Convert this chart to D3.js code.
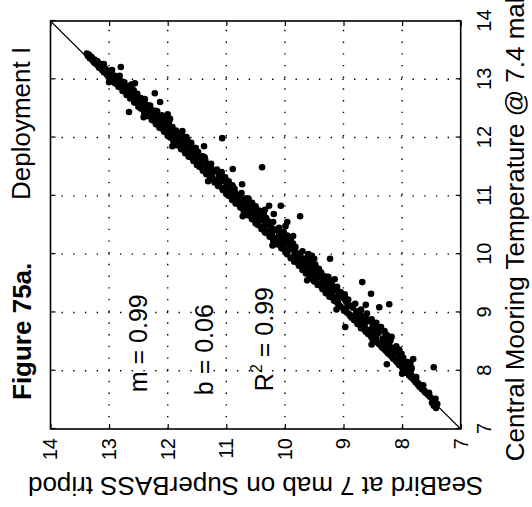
<!DOCTYPE html>
<html>
<head>
<meta charset="utf-8">
<script src="https://cdn.jsdelivr.net/npm/d3@7"></script>
<style>
  body { margin: 0; background: #fff; }
  svg { display: block; }
  text { font-family: "Liberation Sans", Arial, Helvetica, sans-serif; fill: #000; }
</style>
</head>
<body>
<svg id="chart" width="532" height="507"></svg>
<script>
// Axis ticks (both axes span 7-14 degC)
const xTicks = [7, 8, 9, 10, 11, 12, 13, 14];
const yTicks = [7, 8, 9, 10, 11, 12, 13, 14];
const xDomain = [7, 14];
const yDomain = [7, 14];

// Paired temperature samples: [central mooring @ 7.4 mab, SeaBird @ 7 mab]
const coreSamples = [
  [7.36,7.42],[7.40,7.46],[7.43,7.40],[7.45,7.49],[7.48,7.44],[7.50,7.47],[7.52,7.43],[7.55,7.52],[7.58,7.55],
  [7.61,7.58],[7.63,7.61],[7.66,7.62],[7.68,7.66],[7.70,7.65],[7.72,7.70],[7.74,7.69],[7.76,7.73],[7.78,7.72],
  [7.80,7.77],[7.82,7.76],[7.84,7.80],[7.86,7.79],[7.88,7.84],[7.90,7.82],[7.92,7.88],[7.94,7.85],[7.96,7.91],[7.98,7.87],
  [8.00,7.95],[8.02,7.90],[8.04,7.99],[8.05,7.84],[8.07,7.98],[8.09,7.93],[8.10,8.05],[8.12,7.96],[8.14,8.08],[8.15,7.90],
  [8.17,8.10],[8.19,8.02],[8.20,8.14],[8.22,7.98],[8.24,8.17],[8.25,8.06],[8.27,8.20],[8.29,8.01],[8.30,8.24],[8.32,8.12],
  [8.34,8.27],[8.35,8.05],[8.37,8.30],[8.39,8.17],[8.40,8.34],[8.42,8.10],[8.44,8.36],[8.45,8.22],[8.47,8.40],[8.49,8.28],
  [8.50,8.44],[8.52,8.20],[8.53,8.50],[8.55,8.33],[8.57,8.52],[8.58,8.18],[8.60,8.46],[8.62,8.28],[8.63,8.58],[8.65,8.40],
  [8.67,8.62],[8.68,8.30],[8.70,8.55],[8.72,8.42],[8.73,8.70],[8.75,8.36],[8.77,8.64],[8.78,8.50],[8.80,8.76],[8.82,8.44],
  [8.83,8.68],[8.85,8.58],[8.87,8.82],[8.88,8.52],[8.90,8.74],[8.92,8.62],[8.93,8.88],[8.95,8.70],[8.97,8.90],[8.98,8.60],
  [9.00,8.94],[9.02,8.78],[9.03,8.99],[9.05,8.70],[9.07,8.96],[9.08,8.84],[9.10,9.05],[9.12,8.88],[9.13,9.08],[9.15,8.80],
  [9.17,9.10],[9.18,8.95],[9.20,9.16],[9.22,8.92],[9.23,9.12],[9.25,9.02],[9.27,9.24],[9.28,8.98],[9.30,9.20],[9.32,9.08],
  [9.33,9.30],[9.35,9.05],[9.37,9.28],[9.38,9.16],[9.40,9.36],[9.42,9.12],[9.43,9.34],[9.45,9.24],[9.47,9.44],[9.48,9.20],
  [9.50,9.44],[9.52,9.30],[9.53,9.50],[9.55,9.22],[9.57,9.48],[9.58,9.36],[9.60,9.56],[9.62,9.32],[9.63,9.54],[9.65,9.44],
  [9.67,9.64],[9.68,9.38],[9.70,9.60],[9.72,9.50],[9.73,9.70],[9.75,9.42],[9.77,9.66],[9.78,9.55],[9.80,9.76],[9.82,9.48],
  [9.83,9.72],[9.85,9.62],[9.87,9.84],[9.88,9.56],[9.90,9.78],[9.92,9.68],[9.93,9.90],[9.95,9.60],[9.97,9.84],[9.98,9.74],
  [10.00,9.96],[10.02,9.80],[10.03,9.99],[10.05,9.70],[10.07,9.94],[10.08,9.86],[10.10,10.06],[10.12,9.82],[10.13,10.04],[10.15,9.92],
  [10.17,10.14],[10.18,9.86],[10.20,10.10],[10.22,9.98],[10.23,10.20],[10.25,9.90],[10.27,10.16],[10.28,10.04],[10.30,10.26],[10.32,9.96],
  [10.33,10.22],[10.35,10.10],[10.37,10.34],[10.38,10.02],[10.40,10.28],[10.42,10.18],[10.43,10.40],[10.45,10.10],[10.47,10.36],[10.48,10.24],
  [10.50,10.46],[10.52,10.30],[10.53,10.50],[10.55,10.20],[10.57,10.44],[10.58,10.36],[10.60,10.56],[10.62,10.32],[10.63,10.54],[10.65,10.42],
  [10.67,10.64],[10.68,10.36],[10.70,10.60],[10.72,10.50],[10.73,10.70],[10.75,10.44],[10.77,10.66],[10.78,10.56],[10.80,10.76],[10.82,10.50],
  [10.83,10.72],[10.85,10.62],[10.87,10.84],[10.88,10.56],[10.90,10.80],[10.92,10.68],[10.93,10.90],[10.95,10.62],[10.97,10.86],[10.98,10.76],
  [11.00,10.96],[11.02,10.82],[11.03,11.00],[11.05,10.74],[11.07,10.96],[11.08,10.88],[11.10,11.06],[11.12,10.86],[11.13,11.05],[11.15,10.94],
  [11.17,11.14],[11.18,10.90],[11.20,11.12],[11.22,11.00],[11.23,11.20],[11.25,10.96],[11.27,11.18],[11.28,11.06],[11.30,11.27],[11.32,11.02],
  [11.33,11.24],[11.35,11.12],[11.37,11.34],[11.38,11.08],[11.40,11.30],[11.42,11.20],[11.43,11.40],[11.45,11.16],[11.47,11.38],[11.48,11.26],
  [11.50,11.46],[11.52,11.32],[11.53,11.50],[11.55,11.26],[11.57,11.48],[11.58,11.38],[11.60,11.56],[11.62,11.36],[11.63,11.55],[11.65,11.44],
  [11.67,11.64],[11.68,11.40],[11.70,11.62],[11.72,11.52],[11.73,11.70],[11.75,11.48],[11.77,11.68],[11.78,11.58],[11.80,11.77],[11.82,11.52],
  [11.83,11.74],[11.85,11.64],[11.87,11.84],[11.88,11.60],[11.90,11.80],[11.92,11.70],[11.93,11.90],[11.95,11.66],[11.97,11.88],[11.98,11.78],
  [12.00,11.96],[12.02,11.82],[12.03,12.00],[12.05,11.76],[12.07,11.98],[12.08,11.88],[12.10,12.06],[12.12,11.86],[12.13,12.05],[12.15,11.94],
  [12.17,12.14],[12.18,11.92],[12.20,12.12],[12.22,12.02],[12.23,12.20],[12.25,11.98],[12.27,12.18],[12.28,12.08],[12.30,12.27],[12.32,12.04],
  [12.33,12.24],[12.35,12.14],[12.37,12.34],[12.38,12.10],[12.40,12.30],[12.42,12.22],[12.43,12.40],[12.45,12.18],[12.47,12.38],[12.48,12.28],
  [12.50,12.46],[12.52,12.34],[12.53,12.50],[12.55,12.30],[12.57,12.50],[12.58,12.42],[12.60,12.57],[12.62,12.40],[12.63,12.56],[12.65,12.48],
  [12.67,12.64],[12.68,12.46],[12.70,12.62],[12.72,12.56],[12.73,12.70],[12.75,12.52],[12.77,12.70],[12.78,12.62],[12.80,12.77],[12.82,12.60],
  [12.83,12.76],[12.85,12.70],[12.87,12.84],[12.88,12.66],[12.90,12.82],[12.92,12.76],[12.93,12.90],[12.95,12.74],[12.97,12.90],[12.98,12.84],
  [13.00,12.97],[13.02,12.86],[13.04,13.01],[13.06,12.90],[13.08,13.04],[13.10,12.96],[13.12,13.09],[13.14,13.00],[13.16,13.12],[13.18,13.06],
  [13.20,13.17],[13.22,13.10],[13.24,13.20],[13.26,13.15],[13.28,13.25],[13.30,13.20],[13.32,13.28],[13.34,13.25],[13.36,13.33],[13.38,13.30],
  [13.40,13.36],[13.42,13.34],[13.44,13.38]
];

// Further samples inside and along the edges of the main band
const bandSamples = [
  [7.62,7.54],[7.69,7.65],[7.75,7.64],[7.83,7.76],[7.89,7.76],[7.97,7.92],[8.03,7.84],[8.08,7.99],[8.13,7.86],[8.16,8.02],
  [8.21,8.15],[8.26,8.04],[8.31,8.20],[8.36,8.05],[8.41,8.25],[8.46,8.39],[8.51,8.26],[8.56,8.44],[8.61,8.26],[8.66,8.48],
  [8.71,8.63],[8.76,8.49],[8.81,8.67],[8.86,8.65],[8.91,8.86],[8.96,8.80],[9.01,8.72],[9.06,8.96],[9.11,8.92],[9.16,9.10],
  [9.21,8.97],[9.26,9.13],[9.31,8.98],[9.36,9.19],[9.41,9.33],[9.46,9.20],[9.51,9.36],[9.56,9.52],[9.61,9.40],[9.66,9.55],
  [9.71,9.41],[9.76,9.60],[9.81,9.74],[9.86,9.63],[9.91,9.79],[9.96,9.60],[10.01,9.83],[10.06,9.97],[10.11,9.86],[10.16,10.02],
  [10.21,10.16],[10.26,10.06],[10.31,10.00],[10.36,10.24],[10.41,10.19],[10.46,10.38],[10.51,10.34],[10.56,10.28],[10.61,10.50],[10.66,10.47],
  [10.71,10.37],[10.76,10.62],[10.81,10.75],[10.86,10.62],[10.91,10.76],[10.96,10.66],[11.01,10.91],[11.06,10.85],[11.11,10.98],[11.16,10.89],
  [11.21,11.14],[11.26,11.08],[11.31,11.06],[11.36,11.25],[11.41,11.08],[11.46,11.30],[11.51,11.45],[11.56,11.34],[11.61,11.49],[11.66,11.37],
  [11.71,11.54],[11.76,11.68],[11.81,11.57],[11.86,11.73],[11.91,11.60],[11.96,11.77],[12.01,11.92],[12.06,11.80],[12.11,11.96],[12.16,12.11],
  [12.21,11.99],[12.26,12.14],[12.31,12.01],[12.36,12.18],[12.41,12.33],[12.46,12.21],[12.51,12.37],[12.56,12.35],[12.61,12.51],[12.66,12.39],
  [12.71,12.55],[12.76,12.70],[12.81,12.58],[12.86,12.73],[12.91,12.62],[12.96,12.78],[13.01,12.92],[13.06,12.82],[13.11,12.97],[13.16,12.95],
  [13.21,13.14],[13.26,13.09],[13.31,13.20],[13.36,13.31],
  [7.95,8.00],[8.45,8.52],[9.05,9.12],[9.55,9.62],[10.15,10.21],[10.65,10.72],[11.25,11.31],[11.85,11.92],[12.35,12.41],[12.95,13.00]
];

// Samples lying away from the main band
const scatterSamples = [
  [13.21,12.80],[12.93,12.56],[12.76,12.22],[12.61,12.13],[12.44,12.66],[12.40,12.00],[12.32,11.96],[12.11,11.75],
  [12.01,11.68],[11.85,11.38],[11.99,11.07],[11.46,10.89],[11.20,10.73],[11.49,10.39],[10.74,10.46],[10.76,10.34],
  [10.83,10.27],[10.69,10.19],[10.83,10.07],[10.65,9.74],[10.55,9.96],[10.48,9.99],[10.31,9.86],[9.97,9.54],
  [9.92,9.23],[9.92,9.50],[9.92,9.66],[9.83,9.69],[9.74,9.49],[9.52,8.68],[9.32,8.53],[9.14,8.22],[9.09,8.39],
  [9.13,8.62],[8.75,8.97],[9.61,9.26],[9.57,9.15],[9.44,9.11],[10.00,9.60],[8.20,7.81],[8.06,7.46],[8.11,8.26]
];

// Regression statistics printed on the plot
const fitLabels = ["m = 0.99", "b = 0.06"];
const rSquared = "0.99";

// The figure is laid out portrait (507 wide x 532 tall) and turned a quarter turn
// counter-clockwise onto the landscape page.
const svg = d3.select("#chart");
const g = svg.append("g").attr("transform", "translate(0,507) rotate(-90)");

const x = d3.scaleLinear().domain(xDomain).range([78, 486]);
const y = d3.scaleLinear().domain(yDomain).range([460.7, 50.5]);

const [x0, x1] = x.range();
const [y0, y1] = y.range();

// Dotted grid
const grid = g.append("g").attr("stroke", "#000").attr("stroke-width", 1.4)
  .attr("stroke-dasharray", "1.4,10.3").attr("fill", "none");
grid.selectAll("line.v").data(xTicks.slice(1, -1)).join("line")
  .attr("class", "v")
  .attr("x1", d => x(d)).attr("x2", d => x(d))
  .attr("y1", y0).attr("y2", y1);
grid.selectAll("line.h").data(yTicks.slice(1, -1)).join("line")
  .attr("class", "h")
  .attr("x1", x0).attr("x2", x1)
  .attr("y1", d => y(d)).attr("y2", d => y(d));

// 1:1 reference line
g.append("line")
  .attr("x1", x(xDomain[0])).attr("y1", y(yDomain[0]))
  .attr("x2", x(xDomain[1])).attr("y2", y(yDomain[1]))
  .attr("stroke", "#000").attr("stroke-width", 1.1);

// Sample points
const pts = g.append("g").attr("fill", "#000");
[["c", coreSamples], ["b", bandSamples], ["s", scatterSamples]].forEach(([cls, rows]) => {
  pts.selectAll("circle." + cls).data(rows).join("circle")
    .attr("class", cls)
    .attr("cx", d => x(d[0])).attr("cy", d => y(d[1])).attr("r", 3.3);
});

// Axes with inward ticks on all four sides
function styleAxis(sel) {
  sel.selectAll(".domain").remove();
  sel.selectAll(".tick line").attr("stroke", "#000").attr("stroke-width", 1.2);
  sel.selectAll(".tick text").attr("font-size", 20).attr("fill", "#000")
    .style("font-family", '"Liberation Sans", Arial, Helvetica, sans-serif');
}
g.append("g").attr("transform", `translate(0,${y0})`)
  .call(d3.axisBottom(x).tickValues(xTicks).tickFormat(d3.format("d")).tickSize(-5).tickSizeOuter(0).tickPadding(16))
  .call(styleAxis);
g.append("g").attr("transform", `translate(${x0},0)`)
  .call(d3.axisLeft(y).tickValues(yTicks).tickFormat(d3.format("d")).tickSize(-5).tickSizeOuter(0).tickPadding(9))
  .call(styleAxis);
g.append("g").attr("transform", `translate(0,${y1})`)
  .call(d3.axisTop(x).tickValues(xTicks).tickFormat("").tickSize(-5).tickSizeOuter(0))
  .call(styleAxis);
g.append("g").attr("transform", `translate(${x1},0)`)
  .call(d3.axisRight(y).tickValues(yTicks).tickFormat("").tickSize(-5).tickSizeOuter(0))
  .call(styleAxis);

// Frame
g.append("rect")
  .attr("x", x0).attr("y", y1)
  .attr("width", x1 - x0).attr("height", y0 - y1)
  .attr("fill", "none").attr("stroke", "#000").attr("stroke-width", 1.6);

// Axis titles
g.append("text")
  .attr("x", (x0 + x1) / 2).attr("y", 524)
  .attr("text-anchor", "middle").attr("font-size", 26)
  .text("Central Mooring Temperature @ 7.4 mab");
g.append("text")
  .attr("transform", `translate(30,${(y0 + y1) / 2}) rotate(-90)`)
  .attr("text-anchor", "middle").attr("font-size", 26)
  .text("SeaBird at 7 mab on SuperBASS tripod");

// Figure heading
g.append("text")
  .attr("x", 107).attr("y", 31)
  .attr("font-size", 26).attr("font-weight", "bold")
  .text("Figure 75a.");
g.append("text")
  .attr("x", 307).attr("y", 30)
  .attr("font-size", 26)
  .text("Deployment I");

// Regression annotations
g.append("text")
  .attr("x", x(7.63)).attr("y", y(12.35))
  .attr("font-size", 25)
  .text(fitLabels[0]);
g.append("text")
  .attr("x", x(7.58)).attr("y", y(11.23))
  .attr("font-size", 25)
  .text(fitLabels[1]);
const r2 = g.append("text")
  .attr("x", x(7.65)).attr("y", y(10.2))
  .attr("font-size", 25);
r2.append("tspan").text("R");
r2.append("tspan").attr("font-size", 16).attr("dy", -11).text("2");
r2.append("tspan").attr("dy", 11).text(" = " + rSquared);
</script>
</body>
</html>
